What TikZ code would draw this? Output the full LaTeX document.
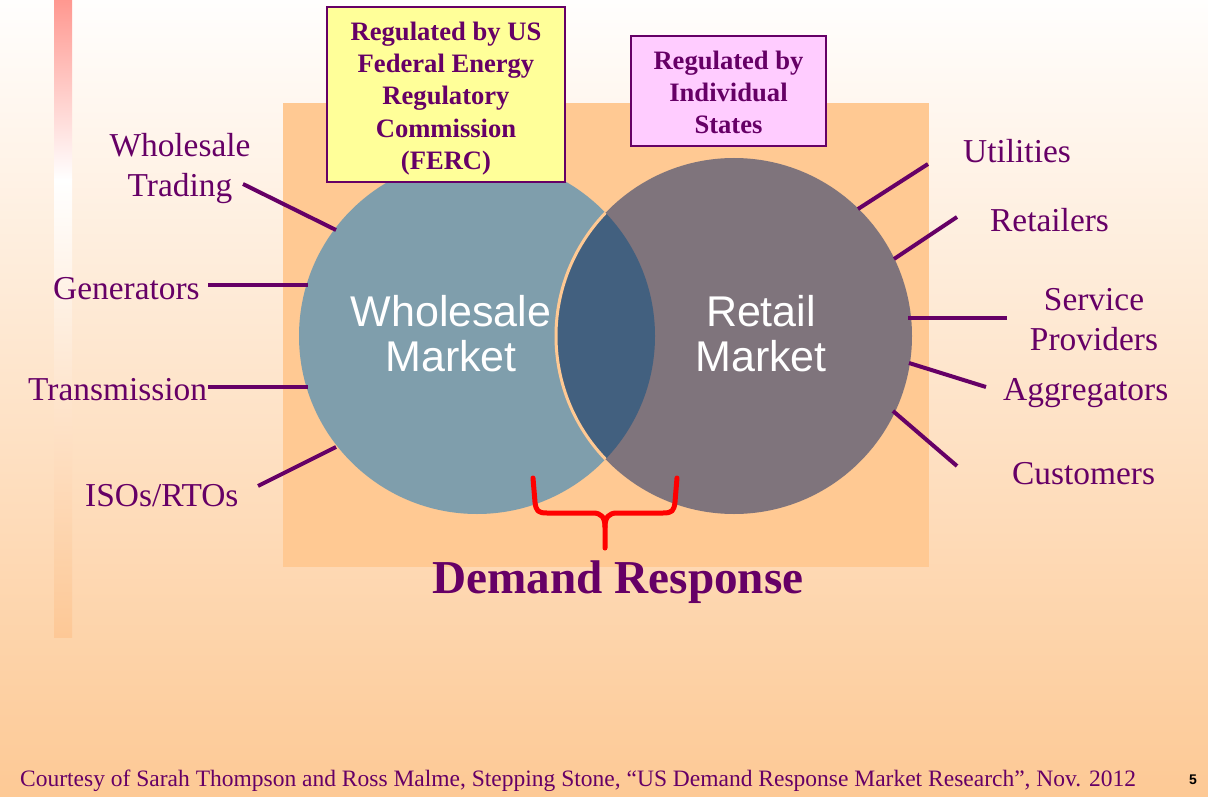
\documentclass[tikz,border=0pt]{standalone}
\usepackage{fontspec}
\setmainfont{Liberation Serif}
\newfontfamily\arialfont{Liberation Sans}

\definecolor{plum}{HTML}{660066}
\definecolor{bgtop}{HTML}{FFFEFD}
\definecolor{bgmid}{HTML}{FEEBDB}
\definecolor{bgbot}{HTML}{FDC995}
\definecolor{panel}{HTML}{FFC993}
\definecolor{wholefill}{HTML}{7F9EAC}
\definecolor{retailfill}{HTML}{7F747C}
\definecolor{lensfill}{HTML}{42607F}
\definecolor{fercbox}{HTML}{FFFF99}
\definecolor{statebox}{HTML}{FFCCFF}
\definecolor{stripred}{HTML}{FF9890}
\definecolor{stripbot}{HTML}{FDC896}

\tikzset{
  leader/.style={draw=plum, line width=4},
  sidelabel/.style={text=plum, inner sep=0, font=\fontsize{33.4}{40}\selectfont},
  marketlabel/.style={text=white, inner sep=0, align=center,
    font=\arialfont\fontsize{43}{45}\selectfont},
  regbox/.style={draw=plum, line width=1.3, inner sep=0},
  regtext/.style={inner sep=0, align=center, text=plum,
    font=\bfseries\fontsize{26.6}{32.2}\selectfont},
  bracepath/.style={draw=red, line width=5, line cap=round, line join=round},
}

\begin{document}
\begin{tikzpicture}[x=1pt, y=-1pt]
\useasboundingbox (0,0) rectangle (1208,797);

% slide background
\shade[top color=bgtop, middle color=bgmid, bottom color=bgbot] (0,0) rectangle (1208,797);

% decorative strip on the left
\shade[top color=stripred, bottom color=white] (54,0) rectangle (72,180);
\shade[top color=white, bottom color=stripbot] (54,180) rectangle (72,637);

% panel behind the circles
\fill[panel] (283,103) rectangle (929,567);

% the two markets
\fill[wholefill] (477,336) circle (178);
\fill[retailfill] (734,336) circle (178);
\begin{scope}
  \clip (477,336) circle (178);
  \fill[lensfill] (734,336) circle (178);
  \draw[panel, line width=3] (734,336) circle (178);
\end{scope}
\node[circle, minimum size=356, inner sep=0, outer sep=0] (wm) at (477,336) {};
\node[circle, minimum size=356, inner sep=0, outer sep=0] (rm) at (734,336) {};

\node[marketlabel] (wmtext) at (451,334) {Wholesale\\Market};
\node[marketlabel] (rmtext) at (761,334) {Retail\\Market};

% regulators
\node[regbox, fill=fercbox, minimum width=238, minimum height=175] (ferc) at (446,94.5) {};
\node[regtext] (ferctext) at (446,98.5)
  {Regulated by US\\Federal Energy\\Regulatory\\Commission\\(FERC)};
\node[regbox, fill=statebox, minimum width=195, minimum height=110] (states) at (728.5,91) {};
\node[regtext] (statestext) at (728.5,92.5) {Regulated by\\Individual\\States};

% wholesale side labels
\node[sidelabel, align=center] (trading) at (180,168.5) {Wholesale\\Trading};
\node[sidelabel, anchor=base west] (gen) at (53,299) {Generators};
\node[sidelabel, anchor=base west] (trans) at (28,400) {Transmission};
\node[sidelabel, anchor=base west] (iso) at (85,506) {ISOs/RTOs};

% retail side labels
\node[sidelabel, anchor=base west] (util) at (963,163) {Utilities};
\node[sidelabel, anchor=base west] (retl) at (990,231) {Retailers};
\node[sidelabel, align=center] (svc) at (1094,320) {Service\\Providers};
\node[sidelabel, anchor=base west] (aggr) at (1003,400) {Aggregators};
\node[sidelabel, anchor=base west] (cust) at (1012,484) {Customers};

% leader lines
\coordinate (trading-e) at (243,184);   \coordinate (trading-c) at (336,230);
\coordinate (gen-e) at (208,285);       \coordinate (gen-c) at (308,285);
\coordinate (trans-e) at (208,387);     \coordinate (trans-c) at (308,387);
\coordinate (iso-e) at (258,486);       \coordinate (iso-c) at (336,447);
\coordinate (util-e) at (928,164);      \coordinate (util-c) at (858,209);
\coordinate (retl-e) at (957,217);      \coordinate (retl-c) at (894,259);
\coordinate (svc-e) at (1007,318);      \coordinate (svc-c) at (908,318);
\coordinate (aggr-e) at (986,387);      \coordinate (aggr-c) at (909,363);
\coordinate (cust-e) at (957,466);      \coordinate (cust-c) at (893,411);
\foreach \k in {trading,gen,trans,iso,util,retl,svc,aggr,cust}
  \draw[leader] (\k-e) -- (\k-c);

% brace marking the overlap
\coordinate (brace-l) at (533,478);
\coordinate (brace-r) at (677,478);
\coordinate (brace-tip) at (605,548);
\draw[bracepath] (brace-l) -- (535,502) .. controls (536,511) and (538,513) .. (547,513)
  -- (593,513) .. controls (601,513) and (605,517) .. (605,527) -- (brace-tip);
\draw[bracepath] (brace-r) -- (675,502) .. controls (674,511) and (672,513) .. (663,513)
  -- (617,513) .. controls (609,513) and (605,517) .. (605,527);

\node[text=plum, inner sep=0, anchor=base, font=\bfseries\fontsize{47.2}{50}\selectfont]
  (dr) at (618,593) {Demand Response};

% footer
\node[text=plum, inner sep=0, anchor=base west, font=\fontsize{23.5}{26}\selectfont]
  (credit) at (20,786) {Courtesy of Sarah Thompson and Ross Malme, Stepping Stone, “US Demand Response Market Research”, Nov. 2012};
\node[inner sep=0, anchor=base, font=\arialfont\bfseries\fontsize{14}{16}\selectfont]
  (pageno) at (1193,784) {5};
\end{tikzpicture}
\end{document}
